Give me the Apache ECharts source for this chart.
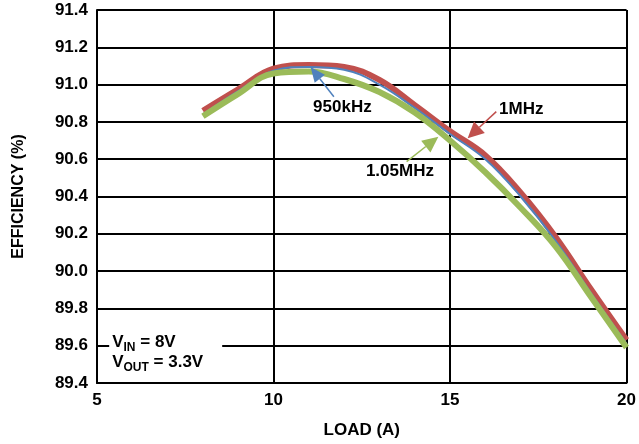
<!DOCTYPE html>
<html><head><meta charset="utf-8">
<script src="https://cdn.jsdelivr.net/npm/echarts@6/dist/echarts.min.js"></script>
<style>html,body{margin:0;padding:0;background:#fff}#c{width:639px;height:444px}</style>
</head><body><div id="c"></div>
<script>
// ---- data ----
const load = [8, 9, 10, 11, 12, 13, 14, 15, 16, 17, 18, 19, 20];
const eff950k = [90.84, 90.965, 91.075, 91.095, 91.08, 91.00, 90.875, 90.735, 90.60, 90.40, 90.16, 89.88, 89.61];
const eff1M   = [90.86, 90.975, 91.085, 91.105, 91.095, 91.025, 90.89, 90.75, 90.62, 90.42, 90.18, 89.90, 89.63];
const eff105M = [90.83, 90.95, 91.06, 91.07, 91.03, 90.96, 90.85, 90.70, 90.53, 90.34, 90.13, 89.86, 89.59];
const xTicks = [5, 10, 15, 20];
const yTicks = [89.4, 89.6, 89.8, 90.0, 90.2, 90.4, 90.6, 90.8, 91.0, 91.2, 91.4];
const seriesNames = ['1MHz', '950kHz', '1.05MHz'];
// annotation anchors in data coordinates
const annot950k = { text: '950kHz', pos: [11.95, 90.876], tail: [11.71, 90.935], tip: [11.05, 91.095] };
const annot1M   = { text: '1MHz',   pos: [16.39, 90.865], tail: [16.31, 90.855], tip: [15.50, 90.713] };
const annot105M = { text: '1.05MHz', pos: [13.58, 90.534], tail: [13.77, 90.587], tip: [14.67, 90.721] };
const condPos = [5.43, 89.618];

const RED = '#C0504D', BLUE = '#4F81BD', GREEN = '#9BBB59';
const FONT = '"Liberation Sans", Arial, sans-serif';

const chart = echarts.init(document.getElementById('c'), null, { renderer: 'canvas' });
const toPairs = arr => load.map((x, i) => [x, arr[i]]);

chart.setOption({
  animation: false,
  backgroundColor: '#fff',
  grid: { left: 97, right: 10, top: 10, bottom: 60.5, containLabel: false },
  xAxis: {
    type: 'value', min: xTicks[0], max: xTicks[xTicks.length - 1], interval: 5,
    name: 'LOAD (A)', nameLocation: 'middle', nameGap: 39,
    nameTextStyle: { fontFamily: FONT, fontWeight: 'bold', fontSize: 17, color: '#000' },
    axisLine: { lineStyle: { color: '#000', width: 2 } },
    axisTick: { show: false },
    axisLabel: { fontFamily: FONT, fontWeight: 'bold', fontSize: 17, color: '#000', margin: 9 },
    splitLine: { show: true, lineStyle: { color: '#000', width: 2 } }
  },
  yAxis: {
    type: 'value', min: yTicks[0], max: yTicks[yTicks.length - 1], interval: 0.2,
    name: 'EFFICIENCY (%)', nameLocation: 'middle', nameGap: 70,
    nameTextStyle: { fontFamily: FONT, fontWeight: 'bold', fontSize: 16, color: '#000' },
    axisLine: { show: true, lineStyle: { color: '#000', width: 2 } },
    axisTick: { show: false },
    axisLabel: { fontFamily: FONT, fontWeight: 'bold', fontSize: 17, color: '#000', margin: 9,
      formatter: v => v.toFixed(1) },
    splitLine: { show: true, lineStyle: { color: '#000', width: 2 } }
  },
  series: [
    { name: seriesNames[0], type: 'line', data: toPairs(eff1M), smooth: 0.4, symbol: 'none',
      lineStyle: { color: RED, width: 6 }, z: 3 },
    { name: seriesNames[1], type: 'line', data: toPairs(eff950k), smooth: 0.4, symbol: 'none',
      lineStyle: { color: BLUE, width: 2 }, z: 4 },
    { name: seriesNames[2], type: 'line', data: toPairs(eff105M), smooth: 0.4, symbol: 'none',
      lineStyle: { color: GREEN, width: 6 }, z: 5 }
  ]
});

function px(p) { return chart.convertToPixel({ gridIndex: 0 }, p); }
function arrow(tail, tip, color, hl, hw) {
  const p0 = px(tail), p1 = px(tip);
  const dx = p1[0] - p0[0], dy = p1[1] - p0[1];
  const L = Math.hypot(dx, dy), ux = dx / L, uy = dy / L;
  const bx = p1[0] - ux * hl, by = p1[1] - uy * hl;
  return [
    { type: 'line', z: 100, shape: { x1: p0[0], y1: p0[1], x2: bx, y2: by }, style: { stroke: color, lineWidth: 1.5 } },
    { type: 'polygon', z: 100, shape: { points: [[p1[0], p1[1]], [bx - uy * hw, by + ux * hw], [bx + uy * hw, by - ux * hw]] }, style: { fill: color } }
  ];
}
function label(a, align) {
  const p = px(a.pos);
  return { type: 'text', z: 101, x: p[0], y: p[1],
    style: { text: a.text, font: 'bold 17px ' + FONT, fill: '#000', align: align, verticalAlign: 'middle' } };
}
const cp = px(condPos);
const rich = {
  m: { fontFamily: FONT, fontWeight: 'bold', fontSize: 17, fill: '#000', lineHeight: 22, verticalAlign: 'middle' },
  s: { fontFamily: FONT, fontWeight: 'bold', fontSize: 12, fill: '#000', lineHeight: 12, verticalAlign: 'bottom' }
};
const graphics = [].concat(
  arrow(annot950k.tail, annot950k.tip, BLUE, 15, 6.5),
  arrow(annot1M.tail, annot1M.tip, RED, 16, 8),
  arrow(annot105M.tail, annot105M.tip, GREEN, 16, 7.5),
  [label(annot950k, 'center'), label(annot1M, 'left'), label(annot105M, 'center')],
  [
    { type: 'rect', z: 99, shape: { x: cp[0] - 3, y: cp[1] - 14, width: 113, height: 44 }, style: { fill: '#fff' } },
    { type: 'text', z: 101, x: cp[0], y: cp[1], style: { text: '{m|V}{s|IN}{m| = 8V}', rich: rich, verticalAlign: 'middle' } },
    { type: 'text', z: 101, x: cp[0], y: cp[1] + 20, style: { text: '{m|V}{s|OUT}{m| = 3.3V}', rich: rich, verticalAlign: 'middle' } }
  ]
);
chart.setOption({ graphic: { elements: graphics } });
</script>
</body></html>
